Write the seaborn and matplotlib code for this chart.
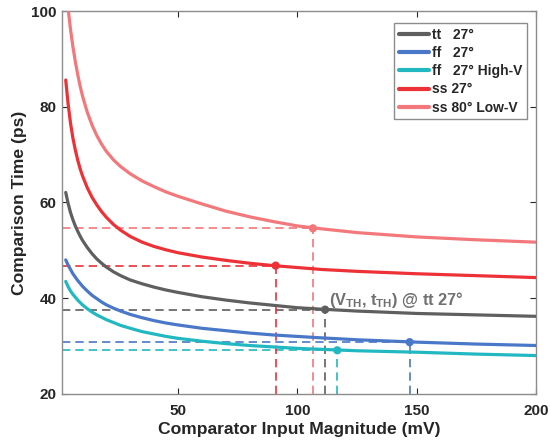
import matplotlib
matplotlib.use('Agg')

import pandas as pd
import numpy as np
import matplotlib.pyplot as plt
import seaborn as sns

# --- style ---
sns.set_theme(style='ticks')
plt.rcParams['font.family'] = ['Liberation Sans', 'DejaVu Sans']
plt.rcParams['font.weight'] = 'bold'
plt.rcParams['mathtext.fontset'] = 'custom'
plt.rcParams['mathtext.rm'] = 'Liberation Sans:bold'
plt.rcParams['mathtext.bf'] = 'Liberation Sans:bold'

# --- data ---
x_mv = [3, 4, 5, 6, 7, 8, 9, 10, 12, 14, 16, 18, 20, 23, 26, 30, 35, 40, 45, 50,
        60, 70, 80, 90, 100, 110, 125, 150, 175, 200]

t_tt = [62.1, 59.8, 57.9, 56.4, 55.1, 54.0, 53.0, 52.1, 50.6, 49.3, 48.2, 47.3, 46.5, 45.5, 44.7,
        43.8, 43.0, 42.3, 41.7, 41.2, 40.3, 39.6, 39.0, 38.5, 38.0, 37.7, 37.3, 36.8, 36.5, 36.2]
t_ff = [48.0, 46.9, 46.0, 45.1, 44.4, 43.7, 43.1, 42.5, 41.5, 40.6, 39.9, 39.2, 38.6, 37.9, 37.3,
        36.6, 35.9, 35.3, 34.8, 34.4, 33.7, 33.2, 32.7, 32.3, 32.0, 31.7, 31.3, 30.8, 30.4, 30.1]
t_ff_hv = [43.5, 42.4, 41.5, 40.8, 40.2, 39.6, 39.1, 38.6, 37.8, 37.1, 36.5, 36.0, 35.5, 34.9, 34.3,
           33.7, 33.0, 32.5, 32.0, 31.6, 31.0, 30.5, 30.1, 29.8, 29.5, 29.3, 29.0, 28.7, 28.3, 28.0]
t_ss = [85.6, 80.6, 76.6, 73.5, 71.0, 68.9, 67.1, 65.6, 63.1, 61.1, 59.5, 58.1, 56.9, 55.4, 54.2,
        52.9, 51.7, 50.8, 50.1, 49.5, 48.6, 47.9, 47.3, 46.8, 46.4, 46.0, 45.6, 45.1, 44.7, 44.3]
t_ss80 = [106.0, 100.5, 96.2, 92.6, 89.5, 86.8, 84.4, 82.3, 78.9, 76.2, 74.0, 72.2, 70.7, 68.9, 67.5,
          66.0, 64.5, 63.3, 62.2, 61.3, 59.7, 58.2, 57.0, 56.0, 55.1, 54.5, 53.7, 52.8, 52.2, 51.7]

labels = ['tt   27\u00b0', 'ff   27\u00b0', 'ff   27\u00b0 High-V', 'ss 27\u00b0', 'ss 80\u00b0 Low-V']
colors = ['#5f5f5f', '#4a78c8', '#22b8c2', '#ec3137', '#f2787c']

# threshold points (V_TH, t_TH)
v_th = [111.6, 147.0, 116.7, 90.9, 106.5]
t_th = [37.6, 30.8, 29.1, 46.8, 54.6]

curves = [t_tt, t_ff, t_ff_hv, t_ss, t_ss80]
df = pd.concat([pd.DataFrame({'x': x_mv, 't': c, 'corner': lab}) for c, lab in zip(curves, labels)])
df_th = pd.DataFrame({'x': v_th, 't': t_th, 'corner': labels})

# --- plot ---
fig = plt.figure(figsize=(5.5, 4.46), dpi=100)
ax = fig.add_axes([0.113, 0.117, 0.862, 0.858])

palette = dict(zip(labels, colors))
xmin, ymin = 1.5, 20

# dashed guides to the threshold points
for lab, col, vx, ty in zip(labels, colors, v_th, t_th):
    ax.hlines(ty, xmin, vx, colors=col, linestyles=(0, (5, 3)), lw=1.2, zorder=1)
    ax.vlines(vx, ymin, ty, colors=col, linestyles=(0, (5, 3)), lw=1.2, zorder=1)

sns.lineplot(data=df, x='x', y='t', hue='corner', hue_order=labels, palette=palette,
             lw=2.3, ax=ax, legend=True, zorder=3)
sns.scatterplot(data=df_th, x='x', y='t', hue='corner', hue_order=labels, palette=palette,
                s=35, edgecolor='none', ax=ax, legend=False, zorder=4)

ax.text(113.2, 38.5, r'(V$_{\mathbf{TH}}$, t$_{\mathbf{TH}}$) @ tt 27' + '\u00b0',
        color='#707070', fontsize=11.8, fontweight='bold', va='baseline', ha='left')

ax.set_xlim(xmin, 200)
ax.set_ylim(ymin, 100)
ax.set_xticks([50, 100, 150, 200])
ax.set_yticks([20, 40, 60, 80, 100])
ax.tick_params(direction='in', length=4, width=0.8, top=True, right=True,
               labelsize=11, colors='#262626')
ax.tick_params(axis='x', pad=7)
ax.tick_params(axis='y', pad=4)
for lbl in ax.get_xticklabels() + ax.get_yticklabels():
    lbl.set_fontweight('bold')
for sp in ax.spines.values():
    sp.set_color('#8c8c8c')
    sp.set_linewidth(1.0)

ax.set_xlabel('Comparator Input Magnitude (mV)', fontsize=12.6, fontweight='bold', color='#262626', labelpad=3)
ax.set_ylabel('Comparison Time (ps)', fontsize=12.6, fontweight='bold', color='#262626', labelpad=3)

handles, _ = ax.get_legend_handles_labels()
leg = ax.legend(handles[-5:], labels, loc='upper right', bbox_to_anchor=(0.981, 0.969),
                frameon=True, fancybox=False, edgecolor='#8c8c8c', framealpha=1,
                prop={'weight': 'bold', 'size': 10}, handlelength=2.2, handletextpad=0.2,
                borderpad=0.35, labelspacing=0.3, borderaxespad=0)
leg.get_frame().set_linewidth(1.0)
for h in leg.get_lines():
    h.set_linewidth(3)

fig.savefig('out.png', dpi=100)
